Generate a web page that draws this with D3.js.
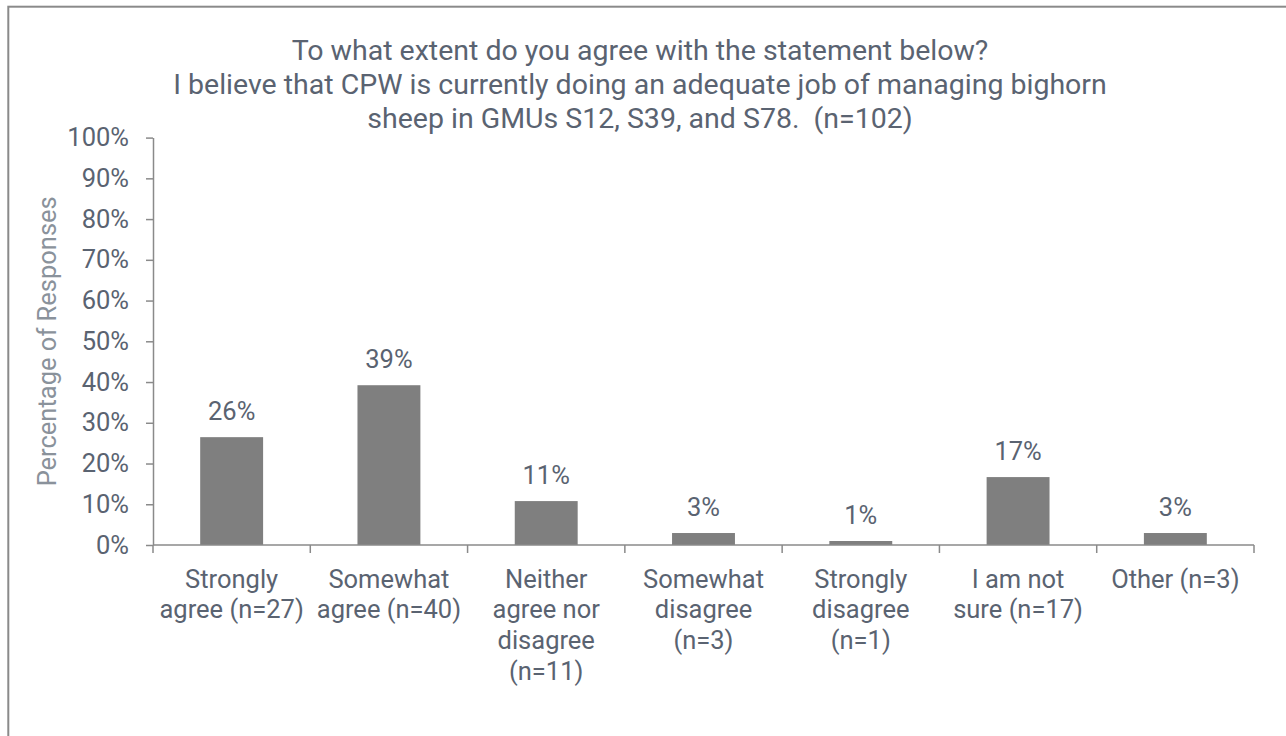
<!DOCTYPE html>
<html>
<head>
<meta charset="utf-8">
<script src="https://cdn.jsdelivr.net/npm/d3@7"></script>
<style>
  body { margin: 0; background: #fff; }
  text { font-family: Roboto, "Noto Sans", sans-serif; }
</style>
</head>
<body>
<svg id="chart" width="1286" height="736"></svg>
<script>
// Survey responses: share of respondents per answer (n=102)
const categories = ["Strongly agree", "Somewhat agree", "Neither agree nor disagree",
  "Somewhat disagree", "Strongly disagree", "I am not sure", "Other"];
const categoryLabelLines = [
  ["Strongly", "agree (n=27)"],
  ["Somewhat", "agree (n=40)"],
  ["Neither", "agree nor", "disagree", "(n=11)"],
  ["Somewhat", "disagree", "(n=3)"],
  ["Strongly", "disagree", "(n=1)"],
  ["I am not", "sure (n=17)"],
  ["Other (n=3)"]
];
const percentages = [26.47, 39.22, 10.78, 2.94, 0.98, 16.67, 2.94];
const yTickValues = [0, 10, 20, 30, 40, 50, 60, 70, 80, 90, 100];
const titleLines = [
  "To what extent do you agree with the statement below?",
  "I believe that CPW is currently doing an adequate job of managing bighorn",
  "sheep in GMUs S12, S39, and S78.  (n=102)"
];
const yAxisTitle = "Percentage of Responses";

const textColor = "#5a6371";
const axisColor = "#8a8a8a";
const barColor = "#7f7f7f";

const svg = d3.select("#chart");
const plot = { left: 153, right: 1254, top: 137.6, bottom: 545 };

// Chart frame
svg.append("rect")
  .attr("x", 8.3).attr("y", 6.7)
  .attr("width", 1400).attr("height", 900)
  .attr("fill", "none")
  .attr("stroke", axisColor)
  .attr("stroke-width", 2);

// Title
svg.append("g")
  .selectAll("text")
  .data(titleLines)
  .join("text")
  .attr("x", 640)
  .attr("y", (d, i) => 59.5 + i * 34)
  .attr("text-anchor", "middle")
  .style("white-space", "pre")
  .style("font-size", "28.5px")
  .attr("fill", textColor)
  .text(d => d);

const x = d3.scaleBand()
  .domain(categories)
  .range([plot.left, plot.right])
  .paddingInner(0.6)
  .paddingOuter(0.3);

const y = d3.scaleLinear()
  .domain([0, 100])
  .range([plot.bottom, plot.top]);

// Y axis
const yAxis = svg.append("g")
  .attr("transform", `translate(${plot.left},0)`)
  .call(d3.axisLeft(y)
    .tickValues(yTickValues)
    .tickFormat(d => d + "%")
    .tickSizeInner(7)
    .tickSizeOuter(0)
    .tickPadding(17));
yAxis.select(".domain").attr("stroke", axisColor).attr("stroke-width", 1.5);
yAxis.selectAll(".tick line").attr("stroke", axisColor).attr("stroke-width", 1.5);
yAxis.selectAll(".tick text")
  .attr("fill", textColor)
  .style("font-size", "25.5px")
  .attr("font-family", null);

// Y axis title
svg.append("text")
  .attr("transform", `translate(56,${(plot.top + plot.bottom) / 2}) rotate(-90)`)
  .attr("text-anchor", "middle")
  .style("font-size", "25.5px")
  .attr("fill", "#8a929b")
  .text(yAxisTitle);

// Bars
svg.append("g")
  .selectAll("rect")
  .data(percentages)
  .join("rect")
  .attr("x", (d, i) => x(categories[i]))
  .attr("y", d => y(d))
  .attr("width", x.bandwidth())
  .attr("height", d => y(0) - y(d))
  .attr("fill", barColor);

// Value labels
svg.append("g")
  .selectAll("text")
  .data(percentages)
  .join("text")
  .attr("x", (d, i) => x(categories[i]) + x.bandwidth() / 2)
  .attr("y", d => y(d) - 17)
  .attr("text-anchor", "middle")
  .style("font-size", "25.5px")
  .attr("fill", textColor)
  .text(d => d3.format(".0f")(d) + "%");

// X axis: baseline with ticks between categories
const gap = (x.step() - x.bandwidth()) / 2;
const boundaries = categories.map(c => x(c) - gap).concat([plot.right]);
const xAxis = svg.append("g");
xAxis.append("line")
  .attr("x1", plot.left).attr("x2", plot.right)
  .attr("y1", plot.bottom).attr("y2", plot.bottom)
  .attr("stroke", axisColor).attr("stroke-width", 1.5);
xAxis.selectAll("line.tick")
  .data(boundaries)
  .join("line")
  .attr("class", "tick")
  .attr("x1", d => d).attr("x2", d => d)
  .attr("y1", plot.bottom).attr("y2", plot.bottom + 8)
  .attr("stroke", axisColor).attr("stroke-width", 1.5);

// Category labels
const labels = xAxis.selectAll("text.cat")
  .data(categoryLabelLines)
  .join("text")
  .attr("class", "cat")
  .attr("text-anchor", "middle")
  .style("font-size", "25.5px")
  .attr("fill", textColor);
labels.each(function (lines, i) {
  const cx = x(categories[i]) + x.bandwidth() / 2;
  d3.select(this).selectAll("tspan")
    .data(lines)
    .join("tspan")
    .attr("x", cx)
    .attr("y", (d, j) => 587.7 + j * 30.7)
    .text(d => d);
});
</script>
</body>
</html>
